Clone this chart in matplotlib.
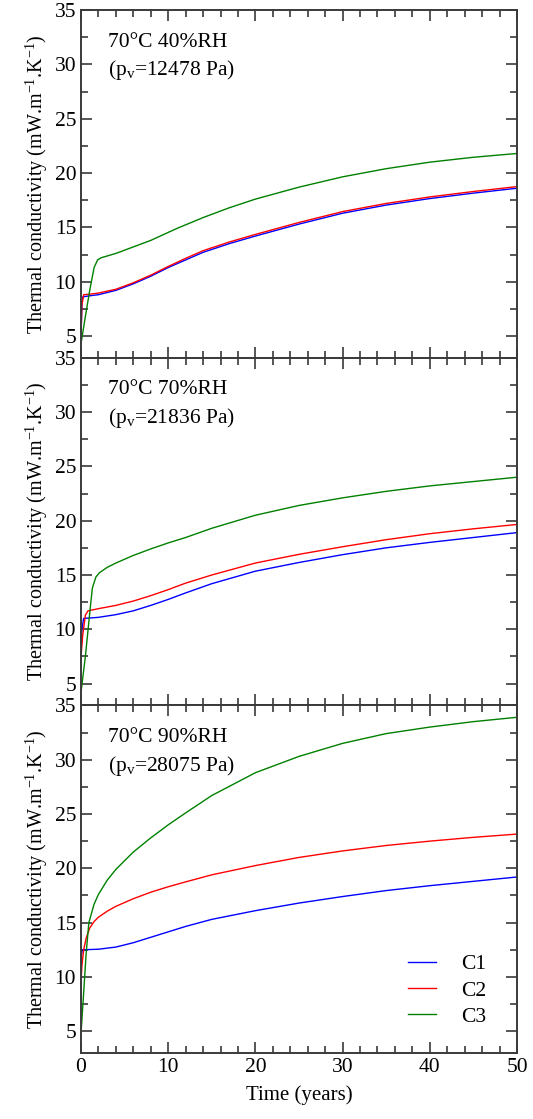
import matplotlib.pyplot as plt
from matplotlib.ticker import MultipleLocator

plt.rcParams['font.family'] = ['Liberation Serif', 'DejaVu Serif']
plt.rcParams['mathtext.fontset'] = 'custom'
plt.rcParams['mathtext.rm'] = 'Liberation Serif'
plt.rcParams['mathtext.it'] = 'Liberation Serif:italic'

# panel 1: 70C 40%RH
t1_c1 = [0, 0.1, 0.2, 1, 2, 4, 6, 8, 10, 12, 14, 17, 20, 25, 30, 35, 40, 45, 50]
k1_c1 = [5.0, 8.0, 8.6, 8.7, 8.8, 9.2, 9.8, 10.5, 11.3, 12.0, 12.7, 13.5, 14.2, 15.3, 16.3, 17.05, 17.65, 18.15, 18.6]
t1_c2 = [0, 0.1, 0.3, 1, 2, 4, 6, 8, 10, 12, 14, 17, 20, 25, 30, 35, 40, 45, 50]
k1_c2 = [5.0, 7.8, 8.8, 8.85, 8.95, 9.3, 9.9, 10.6, 11.4, 12.15, 12.85, 13.65, 14.35, 15.45, 16.45, 17.2, 17.8, 18.3, 18.75]
t1_c3 = [0, 0.5, 1.0, 1.5, 1.9, 2.3, 4, 8, 11, 14, 17, 20, 25, 30, 35, 40, 45, 50]
k1_c3 = [4.3, 6.8, 9.2, 11.3, 12.0, 12.2, 12.6, 13.8, 14.9, 15.9, 16.8, 17.6, 18.7, 19.65, 20.4, 21.0, 21.45, 21.8]

# panel 2: 70C 70%RH
t2_c1 = [0, 0.1, 0.3, 2, 4, 6, 8, 10, 12, 15, 20, 25, 30, 35, 40, 45, 50]
k2_c1 = [7.5, 10.0, 11.0, 11.1, 11.35, 11.7, 12.2, 12.75, 13.35, 14.2, 15.35, 16.15, 16.87, 17.5, 18.0, 18.45, 18.9]
t2_c2 = [0, 0.2, 0.5, 0.8, 2, 4, 6, 8, 10, 12, 15, 20, 25, 30, 35, 40, 45, 50]
k2_c2 = [7.5, 9.5, 11.3, 11.7, 11.9, 12.2, 12.6, 13.1, 13.65, 14.25, 15.0, 16.1, 16.9, 17.6, 18.25, 18.8, 19.25, 19.65]
t2_c3 = [0, 0.5, 1.0, 1.3, 1.7, 2.1, 3, 4, 6, 8, 10, 12, 15, 20, 25, 30, 35, 40, 45, 50]
k2_c3 = [4.2, 7.5, 11.5, 13.8, 14.8, 15.2, 15.7, 16.1, 16.8, 17.4, 17.95, 18.45, 19.3, 20.5, 21.4, 22.1, 22.7, 23.2, 23.6, 24.0]

# panel 3: 70C 90%RH
t3_c1 = [0, 0.05, 0.15, 2, 4, 6, 8, 10, 12, 15, 20, 25, 30, 35, 40, 45, 50]
k3_c1 = [8.0, 12.0, 12.5, 12.55, 12.75, 13.15, 13.65, 14.15, 14.65, 15.3, 16.1, 16.8, 17.4, 17.95, 18.4, 18.8, 19.2]
t3_c2 = [0, 0.1, 0.3, 0.6, 1, 1.5, 2, 3, 4, 6, 8, 10, 12, 15, 20, 25, 30, 35, 40, 45, 50]
k3_c2 = [9.5, 11.0, 12.5, 13.6, 14.5, 15.1, 15.5, 16.05, 16.5, 17.2, 17.8, 18.3, 18.75, 19.4, 20.25, 21.0, 21.6, 22.1, 22.5, 22.85, 23.15]
t3_c3 = [0, 0.3, 0.6, 0.9, 1.5, 2, 3, 4, 6, 8, 10, 12, 15, 20, 25, 30, 35, 40, 45, 50]
k3_c3 = [4.8, 8.5, 12.3, 15.0, 16.7, 17.6, 18.9, 19.9, 21.5, 22.8, 24.0, 25.1, 26.7, 28.8, 30.3, 31.5, 32.4, 33.0, 33.5, 33.9]

panels = [
    ('70°C 40%RH', '12478', (t1_c1, k1_c1), (t1_c2, k1_c2), (t1_c3, k1_c3)),
    ('70°C 70%RH', '21836', (t2_c1, k2_c1), (t2_c2, k2_c2), (t2_c3, k2_c3)),
    ('70°C 90%RH', '28075', (t3_c1, k3_c1), (t3_c2, k3_c2), (t3_c3, k3_c3)),
]
names = ['C1', 'C2', 'C3']
colors = ['#0000ff', '#ff0000', '#008000']

fig, axes = plt.subplots(3, 1, figsize=(5.33, 11.19), dpi=100, sharex=True)
fig.subplots_adjust(left=0.152, right=0.970, top=0.991, bottom=0.059, hspace=0)

for ax, (cond, pv, s1, s2, s3) in zip(axes, panels):
    for (t, k), name, c in zip([s1, s2, s3], names, colors):
        ax.plot(t, k, color=c, lw=1.0, label=name)
    ax.set_xlim(0, 50)
    ax.set_ylim(3, 35)
    ax.xaxis.set_major_locator(MultipleLocator(10))
    ax.xaxis.set_minor_locator(MultipleLocator(2))
    ax.yaxis.set_major_locator(MultipleLocator(5))
    ax.yaxis.set_minor_locator(MultipleLocator(2.5))
    ax.tick_params(which='both', direction='in', top=True, right=True,
                   labelsize=15.5, color='#3a3a3a', width=1.2)
    ax.tick_params(which='major', length=8)
    ax.tick_params(which='minor', length=5)
    for sp in ax.spines.values():
        sp.set_color('#3a3a3a')
        sp.set_linewidth(1.4)
    ax.set_ylabel('Thermal conductivity (mW.m$^{-1}$.K$^{-1}$)', fontsize=14.5, labelpad=3)
    ax.text(0.062, 0.935, cond + '\n(p$_\\mathrm{v}$=' + pv + ' Pa)', transform=ax.transAxes,
            fontsize=15.5, va='top', ha='left', linespacing=1.4)

axes[2].set_xlabel('Time (years)', fontsize=15, labelpad=6)
axes[2].legend(loc='lower right', bbox_to_anchor=(0.975, 0.02), frameon=False, fontsize=15.5,
               handlelength=1.3, handletextpad=1.2, labelspacing=0.28)

plt.savefig('out.png', dpi=100)
